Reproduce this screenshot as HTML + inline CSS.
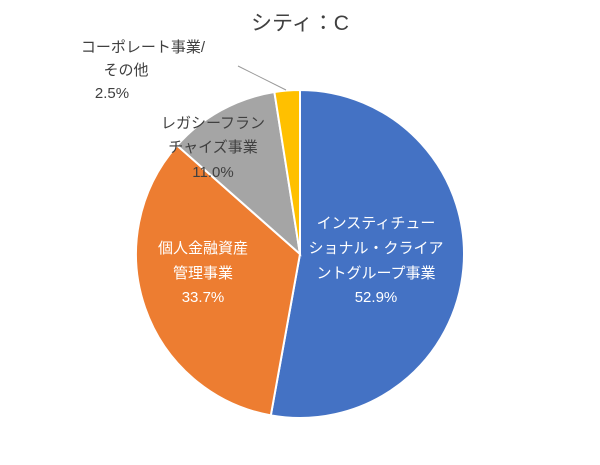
<!DOCTYPE html>
<html><head><meta charset="utf-8"><style>
body{margin:0;background:#fff;}
svg{display:block;font-family:"Liberation Sans","Noto Sans CJK JP",sans-serif;}
</style></head><body>
<svg id="chart" width="600" height="465">
<text x="300" y="30" text-anchor="middle" font-size="21" fill="#404040">シティ：C</text>
<g id="slices"></g>
<line x1="238" y1="66" x2="286" y2="90" stroke="#999" stroke-width="1"/>
<g font-size="15" text-anchor="middle">
<g fill="#404040">
<text x="143" y="52">コーポレート事業/</text><text x="126" y="75">その他</text><text x="112" y="98">2.5%</text></g>
<g fill="#404040">
<text x="213" y="128">レガシーフラン</text><text x="213" y="152">チャイズ事業</text><text x="213" y="177">11.0%</text></g>
<g fill="#fff">
<text x="203" y="253">個人金融資産</text><text x="203" y="278">管理事業</text><text x="203" y="302">33.7%</text></g>
<g fill="#fff">
<text x="376" y="228">インスティチュー</text><text x="376" y="253">ショナル・クライア</text><text x="376" y="278">ントグループ事業</text><text x="376" y="302">52.9%</text></g>
</g>
</svg>
<script>
const categories=["インスティチューショナル・クライアントグループ事業","個人金融資産管理事業","レガシーフランチャイズ事業","コーポレート事業/その他"];
const values=[52.9,33.7,11.0,2.5];
const colors=["#4472C4","#ED7D31","#A5A5A5","#FFC000"];
const names=["slice-institutional","slice-wealth","slice-legacy","slice-corporate"];
const cx=300,cy=254,r=164;
const g=document.getElementById('slices');
const total=values.reduce((a,b)=>a+b,0);
let a0=-Math.PI/2;
values.forEach((v,i)=>{
  const a1=a0+v/total*2*Math.PI;
  const x0=cx+r*Math.cos(a0),y0=cy+r*Math.sin(a0),x1=cx+r*Math.cos(a1),y1=cy+r*Math.sin(a1);
  const p=document.createElementNS('http://www.w3.org/2000/svg','path');
  p.setAttribute('d',`M${cx},${cy}L${x0},${y0}A${r},${r} 0 ${a1-a0>Math.PI?1:0} 1 ${x1},${y1}Z`);
  p.setAttribute('fill',colors[i]);p.setAttribute('stroke','#fff');p.setAttribute('stroke-width','2');
  
  
  g.appendChild(p);a0=a1;
});
</script>
</body></html>
